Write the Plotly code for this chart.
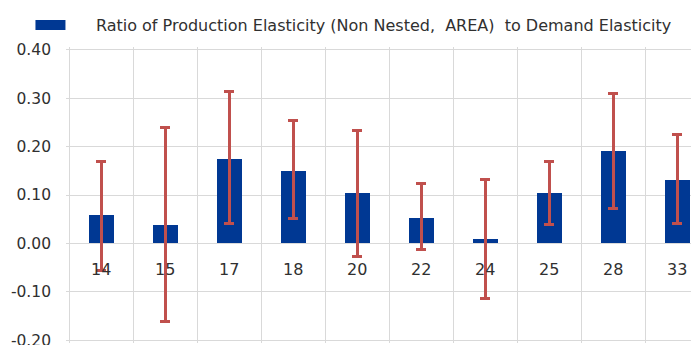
import plotly.graph_objects as go

categories = ["14", "15", "17", "18", "20", "22", "24", "25", "28", "33"]
ratio = [0.058, 0.038, 0.175, 0.150, 0.104, 0.053, 0.010, 0.104, 0.192, 0.131]
upper = [0.170, 0.239, 0.315, 0.255, 0.234, 0.123, 0.132, 0.170, 0.310, 0.225]
lower = [-0.056, -0.162, 0.042, 0.051, -0.027, -0.012, -0.114, 0.039, 0.072, 0.042]
series_name = "Ratio of Production Elasticity (Non Nested,  AREA)  to Demand Elasticity"
y_ticks = [0.4, 0.3, 0.2, 0.1, 0.0, -0.1, -0.2]
y_labels = ["0.40", "0.30", "0.20", "0.10", "0.00", "-0.10", "-0.20"]

BLUE = "#003893"
RED = "#C0504D"
GRID = "#D9D9D9"
TEXT = "#303030"
FONT = "DejaVu Sans"

xs = list(range(len(categories)))
err_plus = [u - v for u, v in zip(upper, ratio)]
err_minus = [v - l for v, l in zip(ratio, lower)]

fig = go.Figure()
fig.add_trace(go.Bar(
    x=xs, y=ratio, width=0.39,
    marker=dict(color=BLUE, line=dict(width=0)),
    error_y=dict(type="data", symmetric=False, array=err_plus, arrayminus=err_minus,
                 color=RED, thickness=3, width=5),
    showlegend=False, name=series_name,
))
# legend entry (wide rectangular key like the original)
fig.add_trace(go.Scatter(
    x=[None], y=[None], mode="lines", name="\u00a0" * 5 + series_name,
    line=dict(color=BLUE, width=13), showlegend=True,
))

for x, c in zip(xs, categories):
    fig.add_annotation(x=x, y=0, text=c, showarrow=False, yshift=-26,
                       font=dict(family=FONT, size=16, color=TEXT))

fig.update_layout(
    width=691, height=337,
    margin=dict(l=58, r=0, t=39, b=2, autoexpand=False),
    paper_bgcolor="white", plot_bgcolor="white",
    font=dict(family=FONT, size=16, color=TEXT),
    bargap=0,
    legend=dict(orientation="h", xref="container", x=0.0325, xanchor="left",
                yref="container", y=1.0, yanchor="top",
                font=dict(family=FONT, size=16, color=TEXT),
                itemwidth=30, bgcolor="rgba(0,0,0,0)"),
    xaxis=dict(range=[-0.55, 9.34], tickmode="linear", tick0=-0.5, dtick=1,
               showticklabels=False, showgrid=True, gridcolor=GRID, gridwidth=1,
               zeroline=False, showline=False, ticks=""),
    yaxis=dict(range=[-0.206, 0.406], tickmode="array", tickvals=y_ticks, ticktext=y_labels,
               showgrid=True, gridcolor=GRID, gridwidth=1, zeroline=False,
               showline=False, ticks="", ticklabelstandoff=14,
               ticklabeloverflow="allow",
               tickfont=dict(family=FONT, size=15.5, color=TEXT)),
)

fig.write_html("out.html")
